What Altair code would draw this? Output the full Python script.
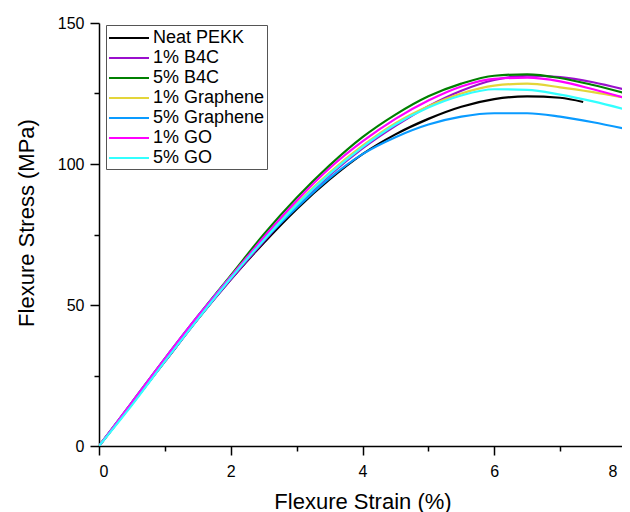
import altair as alt
import pandas as pd

# ---- data ----
strain = [0, 0.5, 1, 1.5, 2, 2.5, 3, 3.5, 4, 4.5, 5, 5.5, 6, 6.5, 7, 7.5, 8]
strain_neat = [0, 0.5, 1, 1.5, 2, 2.5, 3, 3.5, 4, 4.5, 5, 5.5, 6, 6.5, 7, 7.35]

neat_pekk   = [0, 15, 30, 45, 59, 72, 84, 94.5, 103.5, 110.5, 116, 120.3, 123, 124, 123.5, 122]
b4c_1       = [0, 15, 30, 45, 59, 72.5, 85, 96, 105.5, 113.5, 120.5, 126, 129.8, 131.3, 130.8, 129, 126.3]
b4c_5       = [0, 15.5, 31, 46, 60.5, 75, 88, 99.5, 109.5, 117.5, 124, 128.5, 131.3, 131.8, 130.5, 128, 125]
graphene_1  = [0, 15, 30.5, 45.5, 60, 73.5, 86, 97, 106.5, 114.5, 120.5, 125, 127.8, 128.5, 127.2, 125.5, 123.5]
graphene_5  = [0, 15.5, 31, 46, 60, 73, 84.5, 95, 103.5, 109.5, 114, 116.8, 118, 118, 116.8, 114.8, 112.4]
go_1        = [0, 15.5, 31, 46, 60, 74, 87, 98.5, 108, 116, 122.5, 127.5, 130.2, 130.6, 129.3, 126.5, 123.3]
go_5        = [0, 14.5, 30, 45, 59.5, 73, 85.5, 96.5, 106, 114, 120, 124.3, 126.5, 126.3, 124.6, 122.2, 119.3]

series_names = ["Neat PEKK", "1% B4C", "5% B4C", "1% Graphene", "5% Graphene", "1% GO", "5% GO"]
series_colors = ["#000000", "#9A0FCC", "#008000", "#E3D53A", "#0A9BFF", "#FF00FF", "#33FFFF"]

x_major = [0, 2, 4, 6, 8]
x_minor = [1, 3, 5, 7]
y_major = [0, 50, 100, 150]
y_minor = [25, 75, 125]

rows = []
all_series = [(series_names[0], strain_neat, neat_pekk),
              (series_names[1], strain, b4c_1),
              (series_names[2], strain, b4c_5),
              (series_names[3], strain, graphene_1),
              (series_names[4], strain, graphene_5),
              (series_names[5], strain, go_1),
              (series_names[6], strain, go_5)]
for idx, (name, xs, ys) in enumerate(all_series):
    for xv, yv in zip(xs, ys):
        rows.append({"series": name, "strain": xv, "stress": yv, "k": idx})
df = pd.DataFrame(rows)

FONT = "Liberation Sans"

xscale = alt.Scale(domain=[0, 8], nice=False, zero=False)
yscale = alt.Scale(domain=[0, 150], nice=False, zero=False)

lines = alt.Chart(df).mark_line(strokeWidth=2.2, interpolate="monotone", clip=True).encode(
    x=alt.X("strain:Q", scale=xscale,
            axis=alt.Axis(values=x_major, title="Flexure Strain (%)", orient="bottom",
                          tickSize=9, labelPadding=8, titleY=45, format="d",
                          labelOffset=alt.ExprRef("datum.value == 8 ? -9 : 0"))),
    y=alt.Y("stress:Q", scale=yscale,
            axis=alt.Axis(values=y_major, title="Flexure Stress (MPa)", orient="left",
                          tickSize=9, labelPadding=6, titleX=-61, titleY=199.5, format="d")),
    color=alt.Color("series:N",
                    scale=alt.Scale(domain=series_names, range=series_colors),
                    legend=alt.Legend(title=None, orient="none", legendX=7, legendY=2,
                                      symbolType="M-2,0H2", symbolSize=400, symbolStrokeWidth=2,
                                      symbolOffset=10,
                                      labelFontSize=18, labelFont=FONT, labelColor="black",
                                      strokeColor="#555555", padding=2, rowPadding=0,
                                      labelOffset=13)),
    order="k:Q",
    detail="series:N",
)

minor = alt.Chart(df).mark_point(opacity=0).encode(
    x=alt.X("strain:Q", scale=xscale,
            axis=alt.Axis(values=x_minor, labels=False, title=None, orient="bottom",
                          tickSize=5, domain=False)),
    y=alt.Y("stress:Q", scale=yscale,
            axis=alt.Axis(values=y_minor, labels=False, title=None, orient="left",
                          tickSize=5, domain=False)),
)

chart = alt.layer(lines, minor).resolve_axis(x="independent", y="independent").properties(
    width=527, height=423,
    autosize=alt.AutoSizeParams(type="none"),
    padding={"left": 91, "top": 15, "right": -4, "bottom": 66},
).configure_view(stroke=None).configure_axis(
    grid=False,
    domainColor="black", domainWidth=1.5,
    tickColor="black", tickWidth=1.5,
    labelFont=FONT, labelFontSize=16, labelColor="black",
    titleFont=FONT, titleFontSize=22, titleFontWeight="normal", titleColor="black",
)

chart.save("out.html", embed_options={"renderer": "svg", "actions": False})
